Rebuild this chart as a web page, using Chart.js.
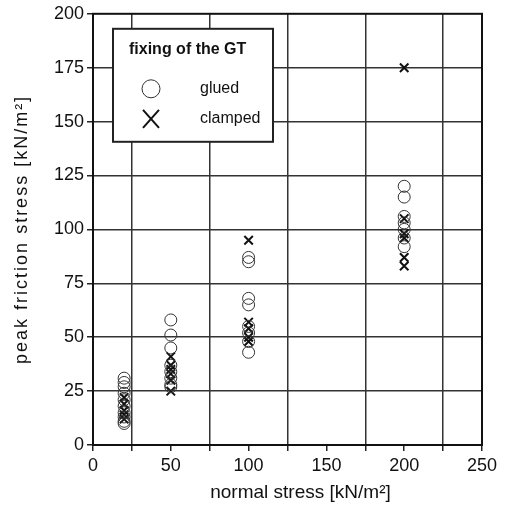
<!DOCTYPE html>
<html lang="en">
<head>
    <meta charset="UTF-8">
    <title>Peak friction stress vs normal stress</title>
    <style>
        body {
            margin: 0;
            background: #fff;
        }
        .wrap {
            width: 512px;
            height: 508px;
        }
    </style>
</head>
<body>
    <div class="wrap"><canvas id="chart" width="512" height="508"></canvas></div>

    <script src="https://cdn.jsdelivr.net/npm/chart.js"></script>
    <script>
        // Data
        const normalStress = [20, 50, 100, 200];
        const gluedFriction = [
            [31, 29, 27, 24, 21, 18, 15, 13, 11, 10],
            [58, 51, 45, 37, 34, 31, 28, 27],
            [87, 85, 68, 65, 55, 52, 48, 43],
            [120, 115, 106, 103, 100, 96, 92]
        ];
        const clampedFriction = [
            [22, 19, 16, 14, 12],
            [41, 37, 35, 33, 30, 25],
            [95, 57, 54, 50, 48],
            [175, 105, 98, 96, 87, 83]
        ];
        const seriesNames = ['glued', 'clamped'];
        const legendTitle = 'fixing of the GT';
        const xTitle = 'normal stress [kN/m²]';
        const yTitle = 'peak friction stress [kN/m²]';

        function toPoints(groups) {
            const pts = [];
            groups.forEach((vals, i) => {
                vals.forEach(v => pts.push({ x: normalStress[i], y: v }));
            });
            return pts;
        }

        const fontFamily = '"Liberation Sans", Arial, sans-serif';

        // frame round the plot, axis titles and the legend box
        const framePlugin = {
            id: 'frame',
            afterDraw(chart) {
                const { ctx, chartArea: a } = chart;
                ctx.save();
                ctx.strokeStyle = '#111';
                ctx.lineWidth = 2;
                ctx.strokeRect(a.left, a.top, a.right - a.left, a.bottom - a.top);

                ctx.fillStyle = '#111';
                ctx.textAlign = 'center';
                ctx.textBaseline = 'middle';

                // x title (sits a bit right of centre in the original)
                ctx.font = '19px ' + fontFamily;
                ctx.fillText(xTitle, (a.left + a.right) / 2 + 13, 493);

                // y title, spaced out
                ctx.save();
                ctx.translate(22, (a.top + a.bottom) / 2);
                ctx.rotate(-Math.PI / 2);
                ctx.font = '18px ' + fontFamily;
                ctx.letterSpacing = '2px';
                ctx.fillText(yTitle, 0, 0);
                ctx.restore();

                // legend
                const bx = a.left + 20, by = a.top + 15, bw = 160, bh = 113;
                ctx.fillStyle = '#fff';
                ctx.fillRect(bx, by, bw, bh);
                ctx.lineWidth = 2;
                ctx.strokeStyle = '#222';
                ctx.strokeRect(bx, by, bw, bh);

                ctx.textAlign = 'left';
                ctx.fillStyle = '#111';
                ctx.font = 'bold 16px ' + fontFamily;
                ctx.fillText(legendTitle, bx + 16, by + 21);

                ctx.font = '16px ' + fontFamily;
                chart.data.datasets.forEach((ds, i) => {
                    const cx = bx + 38, cy = by + 60 + i * 30;
                    ctx.strokeStyle = ds.borderColor;
                    ctx.lineWidth = ds.borderWidth;
                    ctx.beginPath();
                    if (ds.pointStyle === 'circle') {
                        ctx.arc(cx, cy, 9, 0, Math.PI * 2);
                    } else {
                        ctx.moveTo(cx - 8, cy - 9); ctx.lineTo(cx + 8, cy + 9);
                        ctx.moveTo(cx + 8, cy - 9); ctx.lineTo(cx - 8, cy + 9);
                    }
                    ctx.stroke();
                    ctx.fillStyle = '#111';
                    ctx.fillText(ds.label, bx + 87, cy);
                });
                ctx.restore();
            }
        };

        new Chart(document.getElementById('chart'), {
            type: 'scatter',
            data: {
                datasets: [
                    {
                        label: seriesNames[0],
                        data: toPoints(gluedFriction),
                        pointStyle: 'circle',
                        radius: 6,
                        borderWidth: 1,
                        borderColor: '#333',
                        backgroundColor: 'rgba(0,0,0,0)'
                    },
                    {
                        label: seriesNames[1],
                        data: toPoints(clampedFriction),
                        pointStyle: 'crossRot',
                        radius: 6,
                        borderWidth: 2,
                        borderColor: '#111',
                        backgroundColor: '#111'
                    }
                ]
            },
            plugins: [framePlugin],
            options: {
                responsive: false,
                animation: false,
                layout: { padding: { left: 0, right: 30, top: 12, bottom: 5 } },
                plugins: {
                    legend: { display: false },
                    tooltip: { enabled: false }
                },
                scales: {
                    x: {
                        type: 'linear',
                        min: 0,
                        max: 250,
                        afterFit: s => { s.height = 58; },
                        ticks: {
                            stepSize: 25,
                            autoSkip: false,
                            maxRotation: 0,
                            color: '#111',
                            font: { family: fontFamily, size: 18 },
                            padding: 4,
                            callback: v => (v % 50 === 0 ? v : '')
                        },
                        grid: {
                            color: ctx => (ctx.tick && ctx.tick.value % 50 === 25) ? '#333' : 'rgba(0,0,0,0)',
                            lineWidth: 1.5,
                            tickColor: '#222',
                            tickLength: 6
                        },
                        border: { color: '#111', width: 2 },
                        title: { display: false }
                    },
                    y: {
                        min: 0,
                        max: 200,
                        afterFit: s => { s.width = 93; },
                        ticks: {
                            stepSize: 25,
                            color: '#111',
                            font: { family: fontFamily, size: 18 },
                            padding: 3
                        },
                        grid: {
                            color: ctx => (ctx.tick && ctx.tick.value > 0 && ctx.tick.value < 200) ? '#333' : 'rgba(0,0,0,0)',
                            lineWidth: 1.5,
                            tickColor: '#222',
                            tickLength: 6
                        },
                        border: { color: '#111', width: 2 },
                        title: { display: false }
                    }
                }
            }
        });
    </script>
</body>
</html>
